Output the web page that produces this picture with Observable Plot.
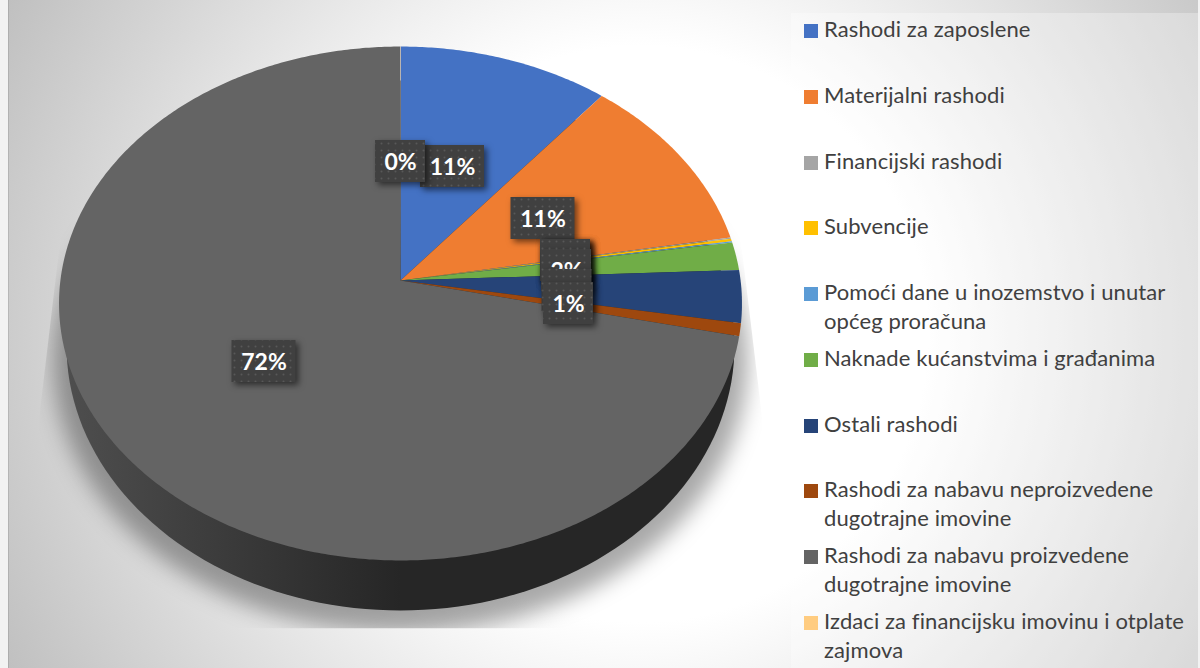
<!DOCTYPE html>
<html>
<head>
<meta charset="utf-8">
<script src="https://cdn.jsdelivr.net/npm/d3@7"></script>
<script src="https://cdn.jsdelivr.net/npm/@observablehq/plot@0.6"></script>
<style>
html,body{margin:0;padding:0;background:#f2f2f2;overflow:hidden}
svg{display:block}
.legend-text text{letter-spacing:.1px}
</style>
</head>
<body>
<div id="chart"></div>
<script>
// Series
const categories = [
  "Rashodi za zaposlene","Materijalni rashodi","Financijski rashodi","Subvencije",
  "Pomoći dane u inozemstvo i unutar općeg proračuna","Naknade kućanstvima i građanima",
  "Ostali rashodi","Rashodi za nabavu neproizvedene dugotrajne imovine",
  "Rashodi za nabavu proizvedene dugotrajne imovine","Izdaci za financijsku imovinu i otplate zajmova"
];
const shares = [10.9,11.36,0.08,0.16,0.08,1.76,3.3,0.8,71.54,0.02];
const colors = ["#4472c4","#ef7d31","#a5a5a5","#ffc000","#5b9bd5","#70ad47","#264478","#9e480e","#646464","#ffcc80"];
const legendLines = [
  "Rashodi za zaposlene","Materijalni rashodi","Financijski rashodi","Subvencije",
  "Pomoći dane u inozemstvo i unutar\nopćeg proračuna","Naknade kućanstvima i građanima",
  "Ostali rashodi","Rashodi za nabavu neproizvedene\ndugotrajne imovine",
  "Rashodi za nabavu proizvedene\ndugotrajne imovine","Izdaci za financijsku imovinu i otplate\nzajmova"
];
// Layout (pixels in the x/y scales)
const legendTops = [24,90,156,221,287,353,419,484,550,616];
const labelCentres = [[452,166],[542.5,218],[565,260],[565,260],[565,260],[566,270],[566.5,290],[568,303],[263.5,361],[400,161]];
const apex = [400,280], radiusX = 340.1, radiusY = 254.9, tilt = 0.0895;

const project = (a, scaleR = 1) => {
  const u = Math.sin(a) * scaleR, v = Math.cos(a) * scaleR, k = 1 + tilt * v;
  return {x: apex[0] + radiusX * u / k, y: apex[1] - radiusY * v / k};
};
const total = d3.sum(shares);
let acc = 0;
const slicePts = [];
shares.forEach((s, i) => {
  const a0 = acc / total * 2 * Math.PI; acc += s;
  const a1 = acc / total * 2 * Math.PI;
  const n = Math.max(2, Math.ceil((a1 - a0) / 0.01));
  slicePts.push({...project(0, 0), cat: categories[i]});
  for (let j = 0; j <= n; j++) slicePts.push({...project(a0 + (a1 - a0) * j / n), cat: categories[i]});
});
const ellipsePts = (cx, cy, rx, ry) => d3.range(0, 361, 2).map(t => ({x: cx + rx * Math.sin(t * Math.PI / 180), y: cy - ry * Math.cos(t * Math.PI / 180)}));
const wall = ellipsePts(400, 345, 334, 265);
const shadow = ellipsePts(400, 360, 347, 272);

const defs = () => {
  const g = d3.create("svg:defs");
  g.html(`
    <radialGradient id="bg" gradientUnits="userSpaceOnUse" cx="640" cy="334" r="720">
      <stop offset="0.4" stop-color="#ffffff"/><stop offset="1" stop-color="#bfbfbf"/>
    </radialGradient>
    <linearGradient id="wallG" gradientUnits="userSpaceOnUse" x1="66" x2="400" y1="0" y2="0">
      <stop offset="0" stop-color="#4e4e4e"/><stop offset="1" stop-color="#262626"/>
    </linearGradient>
    <pattern id="dots" patternUnits="userSpaceOnUse" width="7" height="7">
      <rect width="7" height="7" fill="#404040"/><circle cx="3.5" cy="3.5" r="1" fill="#585858"/>
    </pattern>
    <clipPath id="shadowClip"><path d="M62,220L38,423L38,628L762,628L762,420L738,220Z"/></clipPath>`);
  return g.node();
};
const clipShadow = (i, s, v, d, c, next) => {
  const g = next(i, s, v, d, c);
  g.setAttribute("clip-path", "url(#shadowClip)");
  return g;
};

const labelMarks = shares.flatMap((s, i) => {
  const text = Math.round(s) + "%";
  const [cx, cy] = labelCentres[i];
  const w = text.length > 2 ? 64 : 50;
  const datum = [{x1: cx - w / 2, x2: cx + w / 2, y1: cy - 21, y2: cy + 21, cx, cy, text}];
  return [
    Plot.rect(datum, {x1: "x1", x2: "x2", y1: "y1", y2: "y2", fill: "url(#dots)", imageFilter: "drop-shadow(3px 3px 3px rgba(0,0,0,.55))"}),
    Plot.text(datum, {x: "cx", y: "cy", dy: 1.5, text: "text", fill: "#fff", fontSize: 23, fontWeight: 700, fontFamily: "Lato", lineAnchor: "middle"})
  ];
});

const legendData = categories.map((c, i) => ({cat: c, label: legendLines[i], top: legendTops[i]}));

const chart = Plot.plot({
  width: 1200, height: 668, margin: 0,
  x: {domain: [0, 1200], axis: null},
  y: {domain: [668, 0], axis: null},
  color: {domain: categories, range: colors},
  style: {background: "#f2f2f2"},
  marks: [
    defs,
    Plot.rect([{}], {x1: 8, x2: 1198, y1: 0, y2: 668, fill: "url(#bg)"}),
    Plot.rect([{}], {x1: 8, x2: 9, y1: 0, y2: 668, fill: "#000", fillOpacity: 0.1}),
    Plot.rect([{}], {x1: 791, x2: 1198, y1: 13, y2: 668, fill: "#fff", fillOpacity: 0.3}),
    Plot.line(shadow, {x: "x", y: "y", fill: "#000", fillOpacity: 0.34, stroke: "none", imageFilter: "blur(11px)", render: clipShadow}),
    Plot.line(wall, {x: "x", y: "y", fill: "url(#wallG)", stroke: "none"}),
    Plot.line(slicePts, {x: "x", y: "y", z: "cat", fill: "cat", stroke: "none"}),
    ...labelMarks,
    Plot.rect(legendData, {x1: () => 804, x2: () => 818, y1: "top", y2: d => d.top + 14, fill: "cat"}),
    Plot.text(legendData, {x: () => 823.5, y: d => d.top - 8, className: "legend-text", text: "label", textAnchor: "start", lineAnchor: "top", lineHeight: 1.32, fontSize: 22, fontFamily: "Lato", fill: "#404040"})
  ]
});
document.getElementById("chart").append(chart);
</script>
</body>
</html>
